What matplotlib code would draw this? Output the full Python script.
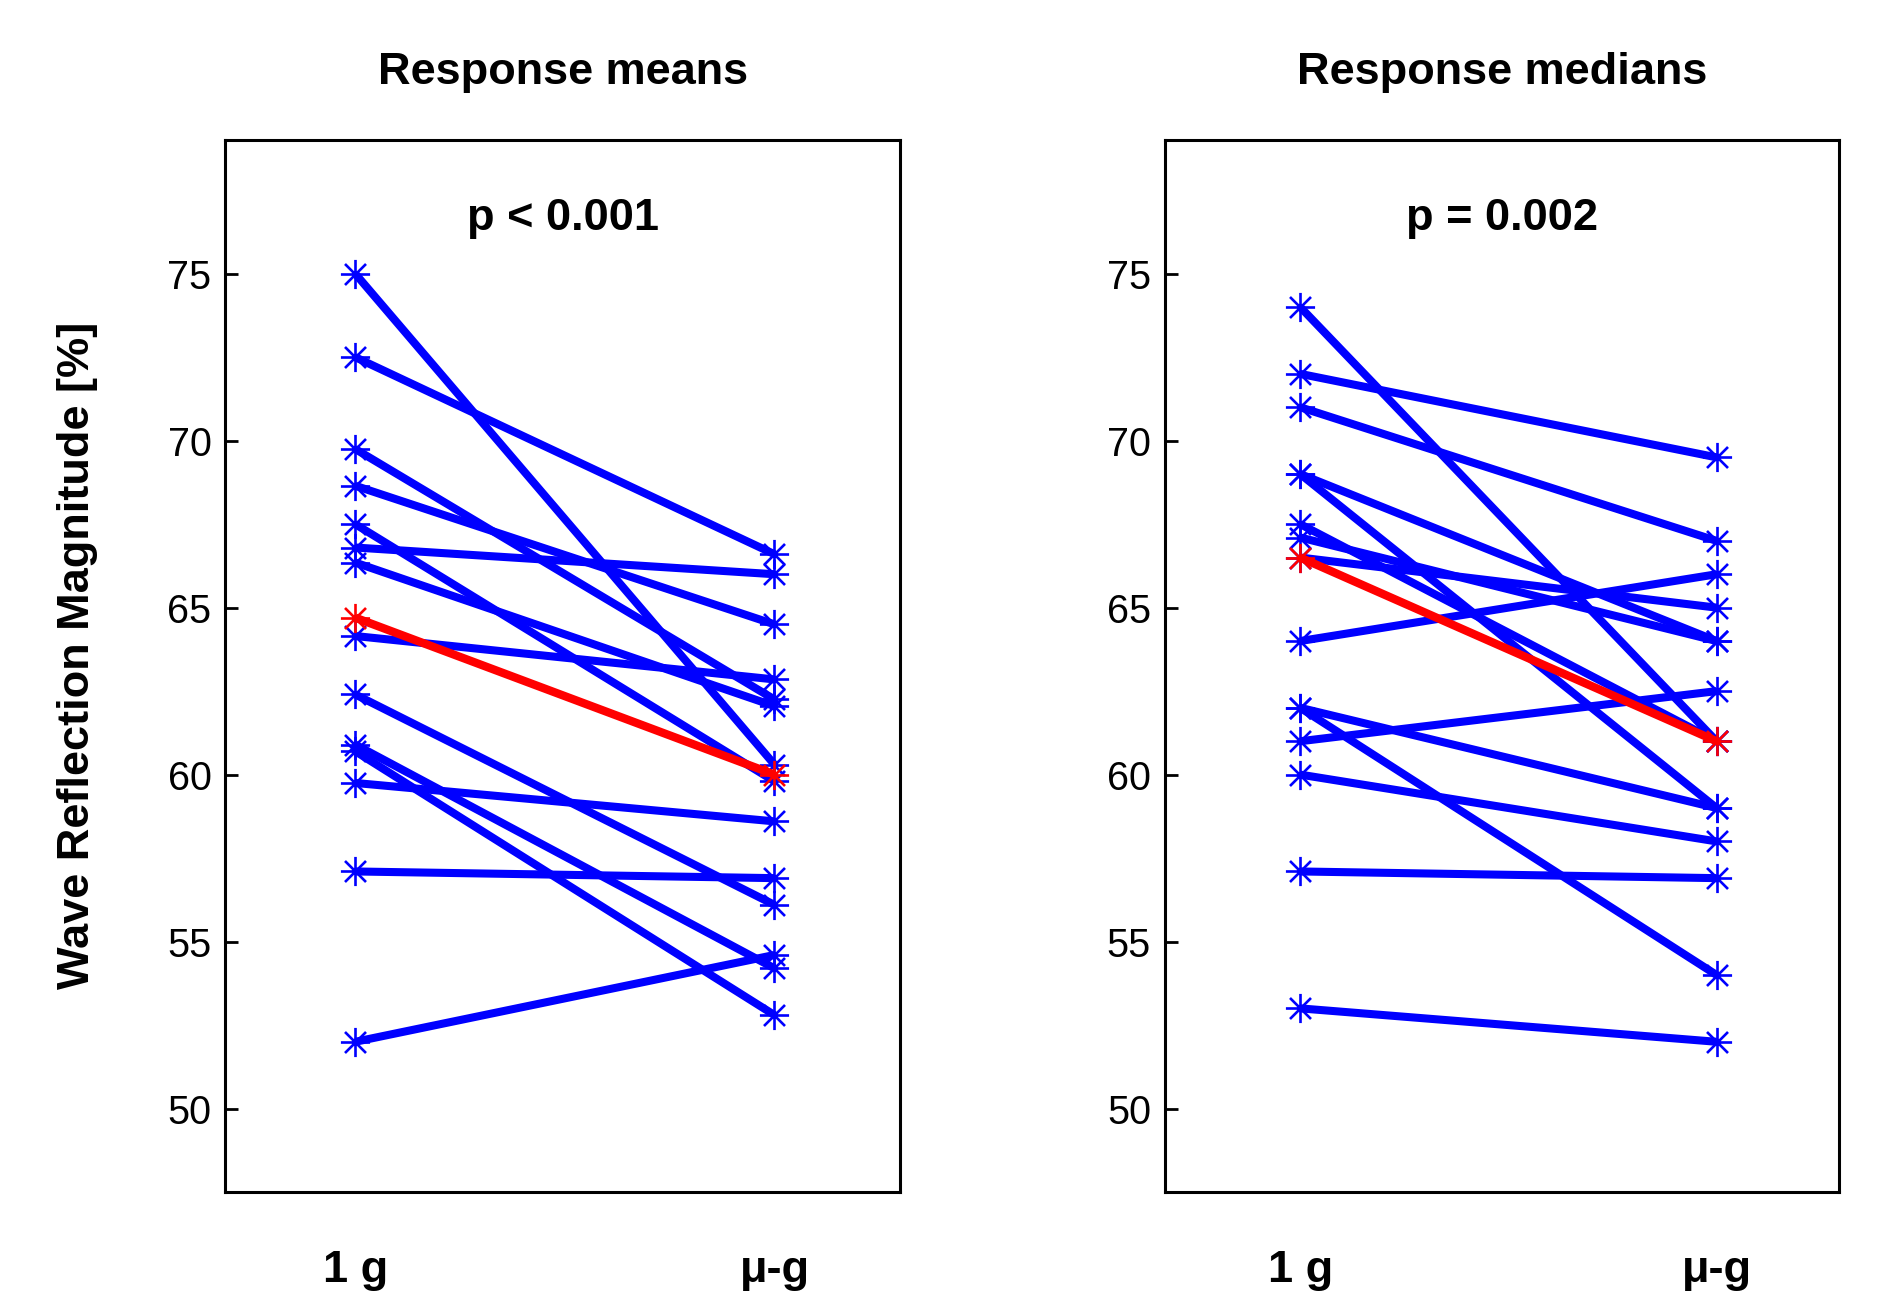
import matplotlib
matplotlib.use("Agg")
import matplotlib.pyplot as plt
from matplotlib.path import Path

plt.rcParams['font.family'] = ['Liberation Sans', 'DejaVu Sans']

# ---- data ----
conditions = ["1 g", "\u03bc-g"]
yticks = [50, 55, 60, 65, 70, 75]

means_1g = [75.0, 72.5, 69.75, 68.65, 67.5, 66.8, 66.35, 64.15, 62.4, 60.9, 60.7, 59.75, 57.1, 52.0]
means_ug = [60.3, 66.6, 62.25, 64.5, 59.8, 66.0, 62.05, 62.85, 56.1, 54.2, 52.8, 58.6, 56.9, 54.6]
means_avg = [64.7, 60.0]

medians_1g = [74.0, 72.0, 71.0, 69.0, 69.0, 67.5, 67.1, 66.5, 64.0, 62.0, 62.0, 61.0, 60.0, 57.1, 53.0]
medians_ug = [61.0, 69.5, 67.0, 64.0, 59.0, 61.0, 64.0, 65.0, 66.0, 59.0, 54.0, 62.5, 58.0, 56.9, 52.0]
medians_avg = [66.5, 61.0]

titles = ["Response means", "Response medians"]
pvals = ["p < 0.001", "p = 0.002"]
ylabel = "Wave Reflection Magnitude [%]"

# asterisk marker (8 arms, like MATLAB '*')
d = 0.72
verts = [(-1, 0), (1, 0), (0, -1), (0, 1), (-d, -d), (d, d), (-d, d), (d, -d)]
codes = [Path.MOVETO, Path.LINETO] * 4
ast = Path(verts, codes)

fig = plt.figure(figsize=(18.79, 12.96), dpi=100)
positions = [[0.1199, 0.0802, 0.3592, 0.8117], [0.6200, 0.0802, 0.3589, 0.8117]]
datasets = [(means_1g, means_ug, means_avg), (medians_1g, medians_ug, medians_avg)]
xlims = [(0.69, 2.30), (0.675, 2.295)]

for k in range(2):
    ax = fig.add_axes(positions[k])
    a, b, avg = datasets[k]
    xs = [1, 2]
    for y0, y1 in zip(a, b):
        ax.plot(xs, [y0, y1], color=(0, 0, 1), lw=5.8, marker=ast, ms=21,
                mec=(0, 0, 1), mfc='none', mew=1.9, solid_capstyle='butt')
    ax.plot(xs, avg, color=(1, 0, 0), lw=6.0, marker=ast, ms=21,
            mec=(1, 0, 0), mfc='none', mew=1.9, solid_capstyle='butt')
    ax.set_xlim(*xlims[k])
    ax.set_ylim(47.5, 79)
    ax.set_yticks(yticks)
    ax.set_yticklabels([str(t) for t in yticks], fontsize=28.5)
    ax.set_xticks([])
    ax.tick_params(axis='y', direction='in', length=9, width=2, pad=10, right=False)
    for s in ax.spines.values():
        s.set_linewidth(2.2)
    ax.text(0.5, 1.064, titles[k], transform=ax.transAxes, ha='center', va='center',
            fontsize=32.5, fontweight='bold')
    ax.text(0.5, 0.925, pvals[k], transform=ax.transAxes, ha='center', va='center',
            fontsize=32.5, fontweight='bold')
    trans = ax.get_xaxis_transform()
    for xi, lab in zip(xs, conditions):
        ax.text(xi, -0.075, lab, transform=trans, ha='center', va='center',
                fontsize=32.5, fontweight='bold')

fig.text(0.0415, 0.4946, ylabel, rotation=90, ha='center', va='center',
         fontsize=32.5, fontweight='bold')

fig.savefig("out.png", dpi=100, facecolor='white')
